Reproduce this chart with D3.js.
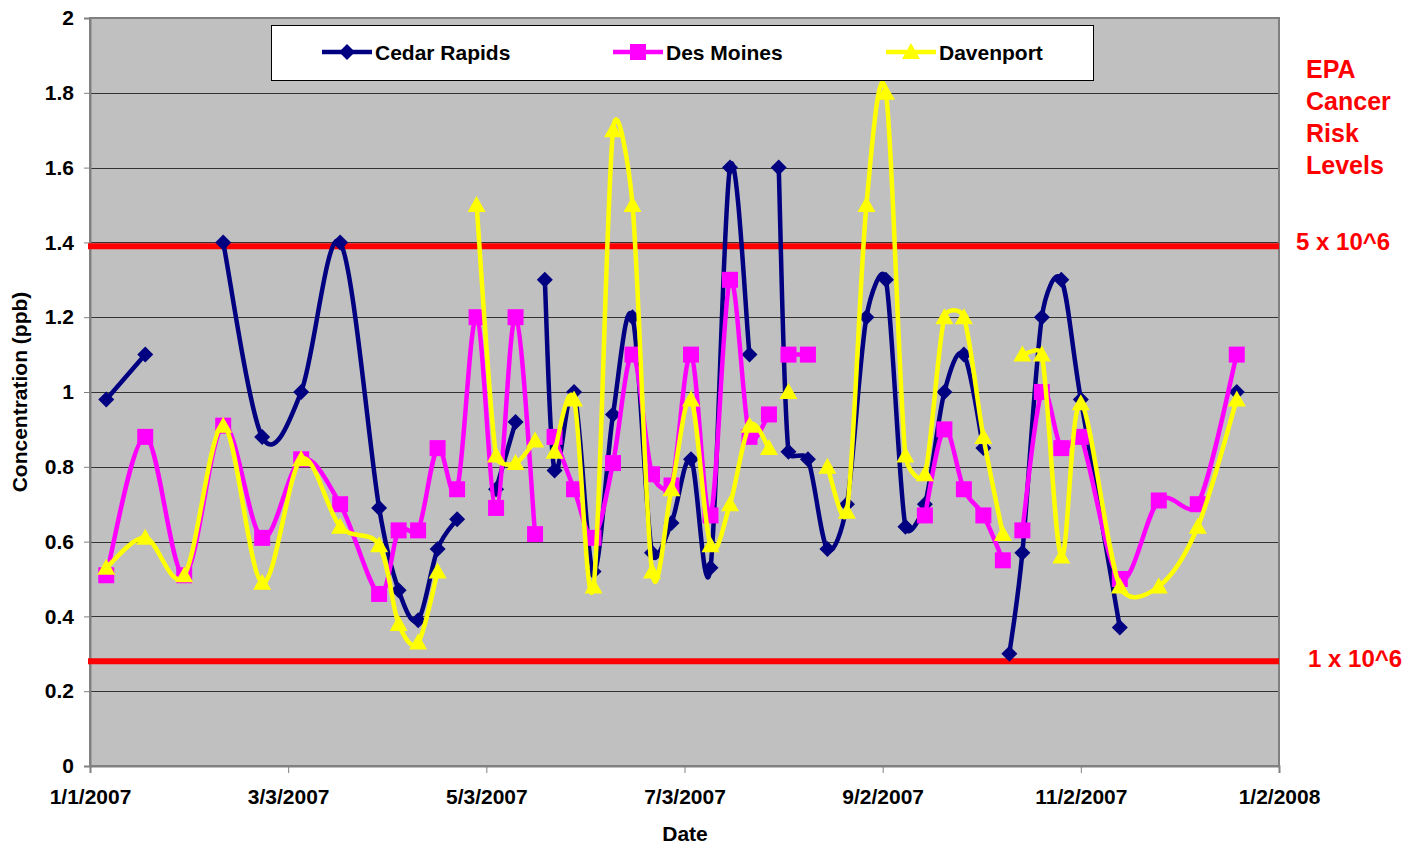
<!DOCTYPE html>
<html>
<head>
<meta charset="utf-8">
<script src="https://cdn.jsdelivr.net/npm/d3@7"></script>
<style>
  body { margin: 0; background: #fff; }
  svg text { font-family: "Liberation Sans", Arial, sans-serif; font-weight: bold; }
</style>
</head>
<body>
<div id="viz"></div>
<script>
// ---- data (null = break in the line) ----
const cedarDates = ["1/6/2007","1/18/2007",null,"2/11/2007","2/23/2007","3/7/2007","3/19/2007","3/31/2007","4/6/2007","4/12/2007","4/18/2007","4/24/2007",null,
  "5/6/2007","5/12/2007",null,"5/21/2007","5/24/2007","5/30/2007","6/5/2007","6/11/2007","6/17/2007","6/23/2007","6/29/2007","7/5/2007","7/11/2007","7/17/2007","7/23/2007",null,
  "8/1/2007","8/4/2007","8/10/2007","8/16/2007","8/22/2007","8/28/2007","9/3/2007","9/9/2007","9/15/2007","9/21/2007","9/27/2007","10/3/2007",null,
  "10/11/2007","10/15/2007","10/21/2007","10/27/2007","11/2/2007","11/14/2007",null,"12/20/2007"];
const cedarValues = [0.98,1.10,null,1.40,0.88,1.00,1.40,0.69,0.47,0.39,0.58,0.66,null,
  0.74,0.92,null,1.30,0.79,1.00,0.52,0.94,1.20,0.57,0.65,0.82,0.53,1.60,1.10,null,
  1.60,0.84,0.82,0.58,0.70,1.20,1.30,0.64,0.70,1.00,1.10,0.85,null,
  0.30,0.57,1.20,1.30,0.98,0.37,null,1.00];

const desMoinesDates = ["1/6/2007","1/18/2007","1/30/2007","2/11/2007","2/23/2007","3/7/2007","3/19/2007","3/31/2007","4/6/2007","4/12/2007","4/18/2007","4/24/2007","4/30/2007","5/6/2007","5/12/2007","5/18/2007",null,
  "5/24/2007","5/30/2007","6/5/2007","6/11/2007","6/17/2007","6/23/2007","6/29/2007","7/5/2007","7/11/2007","7/17/2007","7/23/2007","7/29/2007",null,
  "8/4/2007","8/10/2007",null,"9/15/2007","9/21/2007","9/27/2007","10/3/2007","10/9/2007",null,
  "10/15/2007","10/21/2007","10/27/2007","11/2/2007","11/14/2007","11/26/2007","12/8/2007","12/20/2007"];
const desMoinesValues = [0.51,0.88,0.51,0.91,0.61,0.82,0.70,0.46,0.63,0.63,0.85,0.74,1.20,0.69,1.20,0.62,null,
  0.88,0.74,0.61,0.81,1.10,0.78,0.75,1.10,0.67,1.30,0.88,0.94,null,
  1.10,1.10,null,0.67,0.90,0.74,0.67,0.55,null,
  0.63,1.00,0.85,0.88,0.50,0.71,0.70,1.10];

const davenportDates = ["1/6/2007","1/18/2007","1/30/2007","2/11/2007","2/23/2007","3/7/2007","3/19/2007","3/31/2007","4/6/2007","4/12/2007","4/18/2007",null,
  "4/30/2007","5/6/2007","5/12/2007","5/18/2007",null,
  "5/24/2007","5/30/2007","6/5/2007","6/11/2007","6/17/2007","6/23/2007","6/29/2007","7/5/2007","7/11/2007","7/17/2007","7/23/2007","7/29/2007",null,
  "8/4/2007",null,"8/16/2007","8/22/2007","8/28/2007","9/3/2007","9/9/2007","9/15/2007","9/21/2007","9/27/2007","10/3/2007","10/9/2007",null,
  "10/15/2007","10/21/2007","10/27/2007","11/2/2007","11/14/2007","11/26/2007","12/8/2007","12/20/2007"];
const davenportValues = [0.53,0.61,0.51,0.91,0.49,0.82,0.64,0.59,0.38,0.33,0.52,null,
  1.50,0.83,0.81,0.87,null,
  0.84,0.98,0.48,1.70,1.50,0.52,0.74,0.98,0.59,0.70,0.91,0.85,null,
  1.00,null,0.80,0.68,1.50,1.80,0.83,0.78,1.20,1.20,0.88,0.62,null,
  1.10,1.10,0.56,0.97,0.48,0.48,0.64,0.98];

const seriesNames = ["Cedar Rapids", "Des Moines", "Davenport"];
const seriesColors = ["#000080", "#FF00FF", "#FFFF00"];
const seriesShapes = ["diamond", "square", "triangle"];

const xTickLabels = ["1/1/2007","3/3/2007","5/3/2007","7/3/2007","9/2/2007","11/2/2007","1/2/2008"];
const yTicks = [0, 0.2, 0.4, 0.6, 0.8, 1, 1.2, 1.4, 1.6, 1.8, 2];

const riskValues = [1.39, 0.28];
const riskLabels = ["5 x 10^6", "1 x 10^6"];
const riskTitle = ["EPA", "Cancer", "Risk", "Levels"];

// ---- setup ----
const W = 1426, H = 845;
const margin = {top: 18, right: 147, bottom: 79, left: 90};

const svg = d3.select("#viz").append("svg").attr("width", W).attr("height", H);
const parse = d3.timeParse("%m/%d/%Y");

const x = d3.scaleTime()
  .domain([parse(xTickLabels[0]), parse(xTickLabels[xTickLabels.length - 1])])
  .range([margin.left, W - margin.right]);
const y = d3.scaleLinear().domain([0, 2]).range([H - margin.bottom, margin.top]);

// plot area
svg.append("rect")
  .attr("x", x.range()[0]).attr("y", y(2))
  .attr("width", x.range()[1] - x.range()[0]).attr("height", y(0) - y(2))
  .attr("fill", "#C0C0C0");

// gridlines
svg.append("g").selectAll("line").data(yTicks.filter(d => d > 0 && d < 2)).join("line")
  .attr("x1", x.range()[0]).attr("x2", x.range()[1])
  .attr("y1", d => Math.round(y(d)) + 0.5).attr("y2", d => Math.round(y(d)) + 0.5)
  .attr("stroke", "#333").attr("stroke-width", 1);

// plot border
svg.append("rect")
  .attr("x", x.range()[0]).attr("y", y(2))
  .attr("width", x.range()[1] - x.range()[0]).attr("height", y(0) - y(2))
  .attr("fill", "none").attr("stroke", "#808080").attr("stroke-width", 2);

// axes
const xAxis = svg.append("g")
  .attr("transform", `translate(0,${y(0)})`)
  .call(d3.axisBottom(x).tickValues(xTickLabels.map(parse)).tickFormat((d, i) => xTickLabels[i]).tickSize(7).tickPadding(16));
const yAxis = svg.append("g")
  .attr("transform", `translate(${x.range()[0]},0)`)
  .call(d3.axisLeft(y).tickValues(yTicks).tickFormat(d3.format("~g")).tickSize(6).tickPadding(10));

[xAxis, yAxis].forEach(a => {
  a.select(".domain").attr("stroke", "#808080").attr("stroke-width", 2);
  a.selectAll(".tick line").attr("stroke", "#808080");
  a.selectAll(".tick text").attr("font-size", 21).attr("fill", "#000")
    .attr("font-family", '"Liberation Sans", Arial, sans-serif').attr("font-weight", "bold");
});

// axis titles
svg.append("text").attr("x", 685).attr("y", 841).attr("text-anchor", "middle")
  .attr("font-size", 21).text("Date");
svg.append("text").attr("transform", "translate(27,392) rotate(-90)").attr("text-anchor", "middle")
  .attr("font-size", 21).text("Concentration (ppb)");

// risk level lines
svg.append("g").selectAll("line").data(riskValues).join("line")
  .attr("x1", x.range()[0] - 2).attr("x2", x.range()[1])
  .attr("y1", d => y(d)).attr("y2", d => y(d))
  .attr("stroke", "#FF0000").attr("stroke-width", 6);

// markers
function markerPath(shape) {
  if (shape === "diamond") return "M0,-8L8,0L0,8L-8,0Z";
  if (shape === "square") return "M-8,-8H8V8H-8Z";
  return "M0,-9L9,7H-9Z";
}

// smoothed line like Excel: catmull-rom tangents, control points kept
// within half of the segment they belong to
function ExcelSmooth(context) { this._context = context; }
ExcelSmooth.prototype = {
  areaStart() { this._line = 0; },
  areaEnd() { this._line = NaN; },
  lineStart() { this._pts = []; },
  point(px, py) { this._pts.push([+px, +py]); },
  lineEnd() {
    const p = this._pts, n = p.length, c = this._context;
    if (!n) return;
    c.moveTo(p[0][0], p[0][1]);
    if (n === 2) { c.lineTo(p[1][0], p[1][1]); return; }
    const k = 0.5;
    const tan = i => {
      const a = p[Math.max(i - 1, 0)], b = p[Math.min(i + 1, n - 1)];
      return [(b[0] - a[0]) / 6, (b[1] - a[1]) / 6];
    };
    const clamp = (t, len) => {
      const l = Math.hypot(t[0], t[1]);
      return l > k * len ? [t[0] * k * len / l, t[1] * k * len / l] : t;
    };
    for (let i = 0; i < n - 1; i++) {
      const P1 = p[i], P2 = p[i + 1];
      const len = Math.hypot(P2[0] - P1[0], P2[1] - P1[1]);
      const t1 = clamp(tan(i), len), t2 = clamp(tan(i + 1), len);
      c.bezierCurveTo(P1[0] + t1[0], P1[1] + t1[1], P2[0] - t2[0], P2[1] - t2[1], P2[0], P2[1]);
    }
  }
};
const curveExcel = context => new ExcelSmooth(context);

// series
const seriesData = [
  [cedarDates, cedarValues],
  [desMoinesDates, desMoinesValues],
  [davenportDates, davenportValues]
].map(([ds, vs]) => ds.map((d, i) => ({date: d ? parse(d) : null, value: vs[i]})));

const line = d3.line()
  .defined(d => d.value !== null && d.date !== null)
  .x(d => x(d.date)).y(d => y(d.value))
  .curve(curveExcel);

seriesData.forEach((series, i) => {
  const gs = svg.append("g");
  gs.append("path").datum(series)
    .attr("d", line)
    .attr("fill", "none")
    .attr("stroke", seriesColors[i])
    .attr("stroke-width", 4.5)
    .attr("stroke-linejoin", "round");
  gs.selectAll("path.mk").data(series.filter(d => d.value !== null)).join("path")
    .attr("class", "mk")
    .attr("transform", d => `translate(${x(d.date)},${y(d.value)})`)
    .attr("d", markerPath(seriesShapes[i]))
    .attr("fill", seriesColors[i]);
});

// legend
const legend = svg.append("g");
legend.append("rect").attr("x", 271.5).attr("y", 25.5).attr("width", 822).attr("height", 55)
  .attr("fill", "#fff").attr("stroke", "#000").attr("stroke-width", 1);
const legendX = [322, 613, 886];
seriesNames.forEach((name, i) => {
  const lx = legendX[i];
  legend.append("line").attr("x1", lx).attr("x2", lx + 50).attr("y1", 52).attr("y2", 52)
    .attr("stroke", seriesColors[i]).attr("stroke-width", 4.5);
  legend.append("path").attr("transform", `translate(${lx + 25},52)`)
    .attr("d", markerPath(seriesShapes[i])).attr("fill", seriesColors[i]);
  legend.append("text").attr("x", lx + 53).attr("y", 60).attr("font-size", 21).text(name);
});

// risk annotations
svg.append("g").selectAll("text").data(riskTitle).join("text")
  .attr("x", 1306).attr("y", (d, i) => 78 + i * 32)
  .attr("font-size", 25).attr("fill", "#FF0000").text(d => d);
svg.append("g").selectAll("text").data(riskLabels).join("text")
  .attr("x", (d, i) => i === 0 ? 1296 : 1308)
  .attr("y", (d, i) => y(riskValues[i]) + 4 + (i === 0 ? 0 : 2))
  .attr("font-size", 24).attr("fill", "#FF0000").text(d => d);
</script>
</body>
</html>
